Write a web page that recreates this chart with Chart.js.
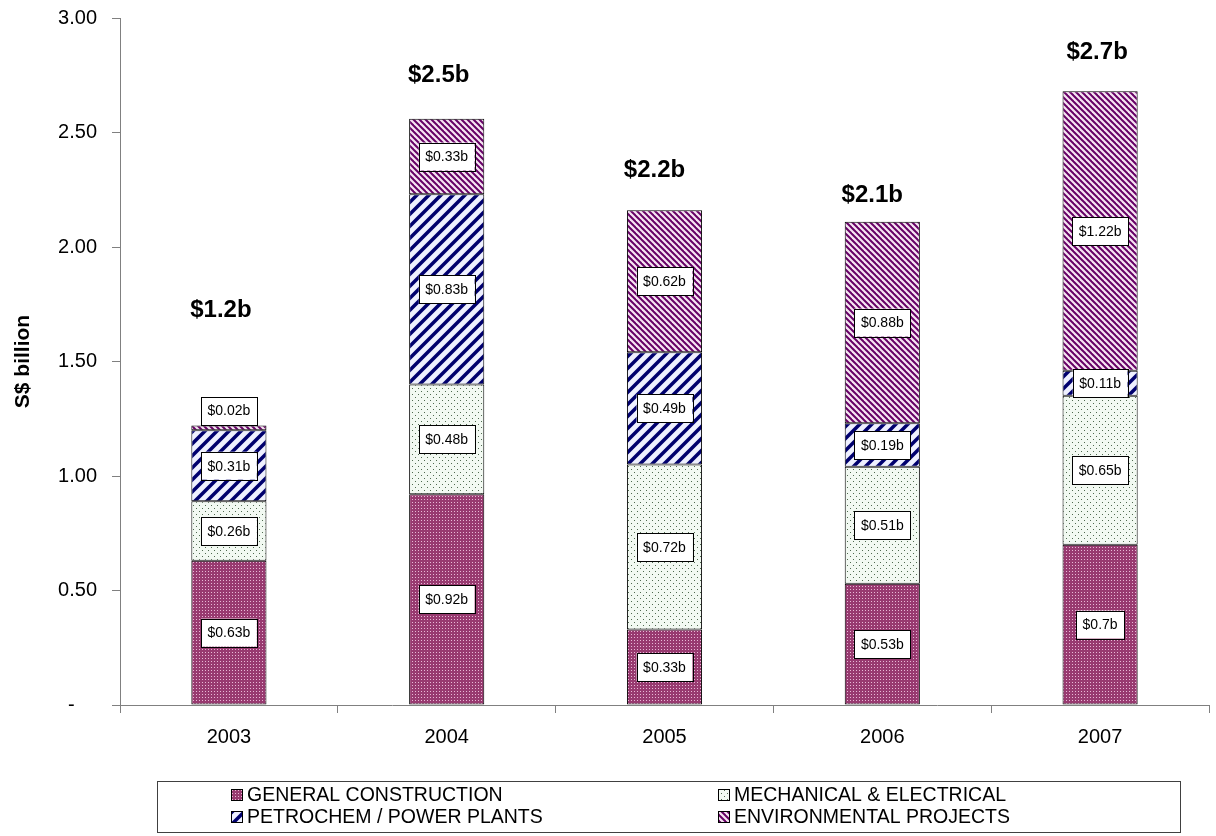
<!DOCTYPE html>
<html>
<head>
<meta charset="utf-8">
<script src="https://cdn.jsdelivr.net/npm/chart.js@4.4.1/dist/chart.umd.min.js"></script>
<style>
    html, body { margin: 0; padding: 0; background: #ffffff; }
    #wrap { width: 1216px; height: 836px; position: relative; }
</style>
</head>
<body>
<div id="wrap"><canvas id="chartContracts"></canvas></div>
<script>
// Données (S$ milliards)
const YEARS = ['2003', '2004', '2005', '2006', '2007'];
const GENERAL_CONSTRUCTION = [0.63, 0.92, 0.33, 0.53, 0.70];
const MECHANICAL_ELECTRICAL = [0.26, 0.48, 0.72, 0.51, 0.65];
const PETROCHEM_POWER = [0.31, 0.83, 0.49, 0.19, 0.11];
const ENVIRONMENTAL = [0.02, 0.33, 0.62, 0.88, 1.22];
const TOTAL_LABELS = ['$1.2b', '$2.5b', '$2.2b', '$2.1b', '$2.7b'];
const Y_TICKS = [0, 0.5, 1, 1.5, 2, 2.5, 3];

const FONT = "'Liberation Sans', Arial, sans-serif";

/**
 * Crée un motif répétable à partir d'une petite tuile
 */
function makePattern(size, bg, draw) {
    const tile = document.createElement('canvas');
    tile.width = size;
    tile.height = size;
    const g = tile.getContext('2d');
    g.fillStyle = bg;
    g.fillRect(0, 0, size, size);
    draw(g, size);
    return g.createPattern(tile, 'repeat');
}

const PAT_GENERAL = makePattern(3, '#983a70', (g) => {
    g.fillStyle = '#e8b8d6';
    g.fillRect(1, 1, 1, 1);
});

const PAT_MECH = makePattern(6, '#f2f9f2', (g) => {
    g.fillStyle = '#4f6a4f';
    g.fillRect(1, 1, 1, 1);
    g.fillRect(4, 4, 1, 1);
});

const PAT_PETRO = makePattern(12, '#eef0ff', (g, s) => {
    g.strokeStyle = '#00006e';
    g.lineWidth = 3.5;
    [0, s, 2 * s].forEach(k => {
        g.beginPath();
        g.moveTo(-2, k + 2);
        g.lineTo(k + 2, -2);
        g.stroke();
    });
});

const PAT_ENV = makePattern(6, '#f6e4f2', (g, s) => {
    g.strokeStyle = '#660066';
    g.lineWidth = 2;
    [-s, 0, s].forEach(k => {
        g.beginPath();
        g.moveTo(-2, k - 2);
        g.lineTo(s + 2, k + s + 2);
        g.stroke();
    });
});

// Étiquettes des segments + totaux au-dessus des barres
const segmentLabels = {
    id: 'segmentLabels',
    afterDatasetsDraw(chart, args, opts) {
        const ctx = chart.ctx;
        ctx.save();
        ctx.font = '14px ' + FONT;
        ctx.textAlign = 'center';
        ctx.textBaseline = 'middle';
        chart.data.datasets.forEach((ds, di) => {
            const meta = chart.getDatasetMeta(di);
            meta.data.forEach((bar, i) => {
                const v = ds.data[i];
                const txt = '$' + v + 'b';
                const w = ctx.measureText(txt).width + 13;
                const h = 28;
                const segH = Math.abs(bar.base - bar.y);
                let cy = (bar.y + bar.base) / 2;
                if (segH < 10) cy = bar.y - h / 2 - 1;
                const cx = bar.x;
                ctx.fillStyle = '#ffffff';
                ctx.fillRect(cx - w / 2, cy - h / 2, w, h);
                ctx.strokeStyle = '#000000';
                ctx.lineWidth = 1;
                ctx.strokeRect(Math.round(cx - w / 2) + 0.5, Math.round(cy - h / 2) + 0.5, Math.round(w), h);
                ctx.fillStyle = '#000000';
                ctx.fillText(txt, cx, cy + 1);
            });
        });

        // Totaux
        const lastMeta = chart.getDatasetMeta(chart.data.datasets.length - 1);
        ctx.font = 'bold 24px ' + FONT;
        lastMeta.data.forEach((bar, i) => {
            const lift = opts.lift[i] || 40;
            ctx.fillText(TOTAL_LABELS[i], bar.x - opts.shift[i], bar.y - lift);
        });
        ctx.restore();
    }
};

// Légende encadrée sur deux colonnes
const boxedLegend = {
    id: 'boxedLegend',
    afterDraw(chart) {
        const ctx = chart.ctx;
        ctx.save();
        ctx.strokeStyle = '#404040';
        ctx.lineWidth = 1;
        ctx.strokeRect(157.5, 781.5, 1023, 51);
        ctx.font = '19.5px ' + FONT;
        ctx.textBaseline = 'middle';
        ctx.textAlign = 'left';
        const cols = [231, 718];
        const rows = [795, 817];
        chart.data.datasets.forEach((ds, i) => {
            const x = cols[i % 2];
            const y = rows[Math.floor(i / 2)];
            ctx.fillStyle = ds.backgroundColor;
            ctx.fillRect(x, y - 6, 12, 12);
            ctx.strokeStyle = '#000000';
            ctx.strokeRect(x + 0.5, y - 5.5, 11, 11);
            ctx.fillStyle = '#000000';
            ctx.fillText(ds.label, x + 16, y + 1);
        });
        ctx.restore();
    }
};

const barStyle = {
    borderColor: '#000000',
    borderWidth: 1,
    borderSkipped: false,
    barPercentage: 0.345,
    categoryPercentage: 1.0,
};

new Chart(document.getElementById('chartContracts').getContext('2d'), {
    type: 'bar',
    data: {
        labels: YEARS,
        datasets: [
            { label: 'GENERAL CONSTRUCTION', data: GENERAL_CONSTRUCTION, backgroundColor: PAT_GENERAL, ...barStyle },
            { label: 'MECHANICAL & ELECTRICAL', data: MECHANICAL_ELECTRICAL, backgroundColor: PAT_MECH, ...barStyle },
            { label: 'PETROCHEM / POWER PLANTS', data: PETROCHEM_POWER, backgroundColor: PAT_PETRO, ...barStyle },
            { label: 'ENVIRONMENTAL PROJECTS', data: ENVIRONMENTAL, backgroundColor: PAT_ENV, ...barStyle },
        ]
    },
    options: {
        responsive: true,
        maintainAspectRatio: false,
        animation: false,
        layout: { padding: { top: 18, right: 7, left: 0, bottom: 0 } },
        plugins: {
            legend: { display: false },
            tooltip: { enabled: false },
            segmentLabels: {
                lift: [115, 43, 40, 26, 39],
                shift: [8, 8, 10, 10, 3]
            }
        },
        scales: {
            x: {
                stacked: true,
                afterFit: (scale) => { scale.height = 131; },
                grid: { drawOnChartArea: false, tickLength: 8, color: '#808080', offset: true },
                border: { color: '#808080' },
                ticks: { color: '#000000', font: { family: FONT, size: 20 }, padding: 12 },
            },
            y: {
                stacked: true,
                min: 0,
                max: 3,
                afterFit: (scale) => {
                    scale.width = 120;
                    scale.paddingTop = 0;
                    scale.paddingBottom = 0;
                },
                afterBuildTicks: (scale) => { scale.ticks = Y_TICKS.map(v => ({ value: v })); },
                grid: { drawOnChartArea: false, tickLength: 8, color: '#808080' },
                border: { color: '#808080' },
                title: {
                    display: true,
                    text: 'S$ billion',
                    color: '#000000',
                    font: { family: FONT, size: 21, weight: 'bold' },
                    padding: { top: 11, bottom: 0 }
                },
                ticks: {
                    color: '#000000',
                    font: { family: FONT, size: 20 },
                    padding: 15,
                    callback: v => v === 0 ? '-    ' : v.toFixed(2),
                }
            }
        }
    },
    plugins: [segmentLabels, boxedLegend]
});
</script>
</body>
</html>
